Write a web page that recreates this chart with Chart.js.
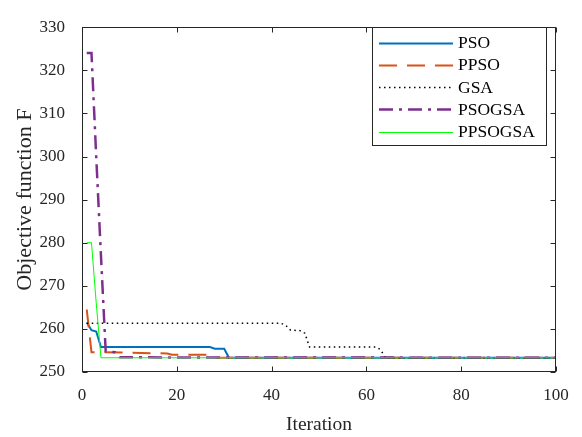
<!DOCTYPE html>
<html>
<head>
<meta charset="utf-8">
<script src="https://cdn.jsdelivr.net/npm/chart.js@4/dist/chart.umd.min.js"></script>
<style>
  html, body { margin: 0; padding: 0; background: #fff; }
  #wrap { width: 582px; height: 437px; }
</style>
</head>
<body>
<div id="wrap"><canvas id="chart"></canvas></div>
<script>
// values, only at the iterations where a line bends
const seriesNames = ["PSO", "PPSO", "GSA", "PSOGSA", "PPSOGSA"];

const psoIter = [1, 2, 3, 4, 27, 28, 30, 31, 100];
const psoValues = [261.5, 259.7, 259.4, 255.8, 255.8, 255.4, 255.4, 253.3, 253.3];

const ppsoIter = [1, 2, 9, 18, 19, 27, 28, 100];
const ppsoValues = [264.5, 254.6, 254.5, 254.3, 254.0, 254.0, 253.3, 253.3];

const gsaIter = [1, 42, 43, 44, 46, 47, 48, 62, 63, 64, 100];
const gsaValues = [261.3, 261.3, 260.8, 259.7, 259.6, 259.0, 255.8, 255.8, 255.2, 253.3, 253.3];

const psogsaIter = [1, 2, 3, 4, 5, 7, 8, 100];
const psogsaValues = [324, 324, 300, 277, 254.8, 254.6, 253.4, 253.3];

const ppsogsaIter = [1, 2, 3, 4, 100];
const ppsogsaValues = [280, 280, 266, 253.3, 253.3];

const xTicks = [0, 20, 40, 60, 80, 100];
const yTicks = [250, 260, 270, 280, 290, 300, 310, 320, 330];

const SERIF = "'Liberation Serif', 'Times New Roman', serif";
const INK = "#262626";

const toPoints = (iters, values) => iters.map((x, i) => ({ x: x, y: values[i] }));

/**
 * Axes box with inward ticks on all four sides, plus the boxed legend
 */
const framePlugin = {
    id: "frame",
    afterDraw(chart) {
        const { ctx, chartArea: a, scales } = chart;
        const L = Math.round(a.left) + 0.5, R = Math.round(a.right) - 0.5;
        const T = Math.round(a.top) + 0.5, B = Math.round(a.bottom) - 0.5;
        ctx.save();
        ctx.strokeStyle = INK;
        ctx.lineWidth = 1;
        ctx.setLineDash([]);
        ctx.strokeRect(L, T, R - L, B - T);
        const len = 5;
        ctx.beginPath();
        xTicks.forEach(v => {
            const px = Math.round(scales.x.getPixelForValue(v)) + 0.5;
            ctx.moveTo(px, B); ctx.lineTo(px, B - len);
            ctx.moveTo(px, T); ctx.lineTo(px, T + len);
        });
        yTicks.forEach(v => {
            const py = Math.round(scales.y.getPixelForValue(v)) + 0.5;
            ctx.moveTo(L, py); ctx.lineTo(L + len, py);
            ctx.moveTo(R, py); ctx.lineTo(R - len, py);
        });
        ctx.stroke();

        // legend
        const box = { left: 372.5, top: 27.5, right: 546.5, bottom: 145.5 };
        ctx.fillStyle = "#fff";
        ctx.fillRect(box.left, box.top, box.right - box.left, box.bottom - box.top);
        ctx.strokeRect(box.left, box.top, box.right - box.left, box.bottom - box.top);
        ctx.font = "17.5px " + SERIF;
        ctx.textBaseline = "middle";
        ctx.textAlign = "left";
        chart.data.datasets.forEach((ds, i) => {
            const y = 42.5 + i * 22.3;
            ctx.beginPath();
            ctx.strokeStyle = ds.borderColor;
            ctx.lineWidth = ds.borderWidth;
            ctx.setLineDash(ds.borderDash || []);
            ctx.moveTo(379, Math.round(y) + 0.5);
            ctx.lineTo(453, Math.round(y) + 0.5);
            ctx.stroke();
            ctx.fillStyle = "#000";
            ctx.fillText(ds.label, 458, y + 1);
        });
        ctx.restore();
    },
};

const makeDataset = (label, iters, values, style, order) => ({
    label: label,
    data: toPoints(iters, values),
    fill: false,
    tension: 0,
    pointRadius: 0,
    borderCapStyle: "butt",
    order: order,
    ...style,
});

const datasets = [
    makeDataset(seriesNames[0], psoIter, psoValues, { borderColor: "#0072BD", borderWidth: 2 }, 4),
    makeDataset(seriesNames[1], ppsoIter, ppsoValues, { borderColor: "#D95319", borderWidth: 2, borderDash: [18, 10] }, 3),
    makeDataset(seriesNames[2], gsaIter, gsaValues, { borderColor: "#000000", borderWidth: 1.5, borderDash: [1.5, 3.5] }, 2),
    makeDataset(seriesNames[3], psogsaIter, psogsaValues, { borderColor: "#7E2F8E", borderWidth: 2.5, borderDash: [14, 6, 3, 6] }, 1),
    makeDataset(seriesNames[4], ppsogsaIter, ppsogsaValues, { borderColor: "#00FF00", borderWidth: 1 }, 0),
];

new Chart(document.getElementById("chart"), {
    type: "line",
    data: { datasets: datasets },
    options: {
        responsive: true,
        maintainAspectRatio: false,
        animation: false,
        layout: { padding: { top: 15, right: 26, left: 0, bottom: 0 } },
        plugins: {
            legend: { display: false },
            tooltip: { enabled: false },
        },
        scales: {
            x: {
                type: "linear",
                min: 0,
                max: 100,
                afterFit: s => { s.height = 65; },
                afterBuildTicks: s => { s.ticks = xTicks.map(v => ({ value: v })); },
                grid: { display: false, drawTicks: false },
                border: { display: false },
                ticks: { padding: 13, color: INK, font: { family: SERIF, size: 17 } },
                title: {
                    display: true,
                    text: "Iteration",
                    color: INK,
                    font: { family: SERIF, size: 19.5 },
                    padding: { top: 0, bottom: 0 },
                },
            },
            y: {
                type: "linear",
                min: 250,
                max: 330,
                afterFit: s => { s.width = 82; },
                afterBuildTicks: s => { s.ticks = yTicks.map(v => ({ value: v })); },
                grid: { display: false, drawTicks: false },
                border: { display: false },
                ticks: { padding: 17, color: INK, font: { family: SERIF, size: 17 } },
                title: {
                    display: true,
                    text: "Objective function F",
                    color: INK,
                    font: { family: SERIF, size: 22 },
                    padding: { top: 12, bottom: 0 },
                },
            },
        },
    },
    plugins: [framePlugin],
});
</script>
</body>
</html>
